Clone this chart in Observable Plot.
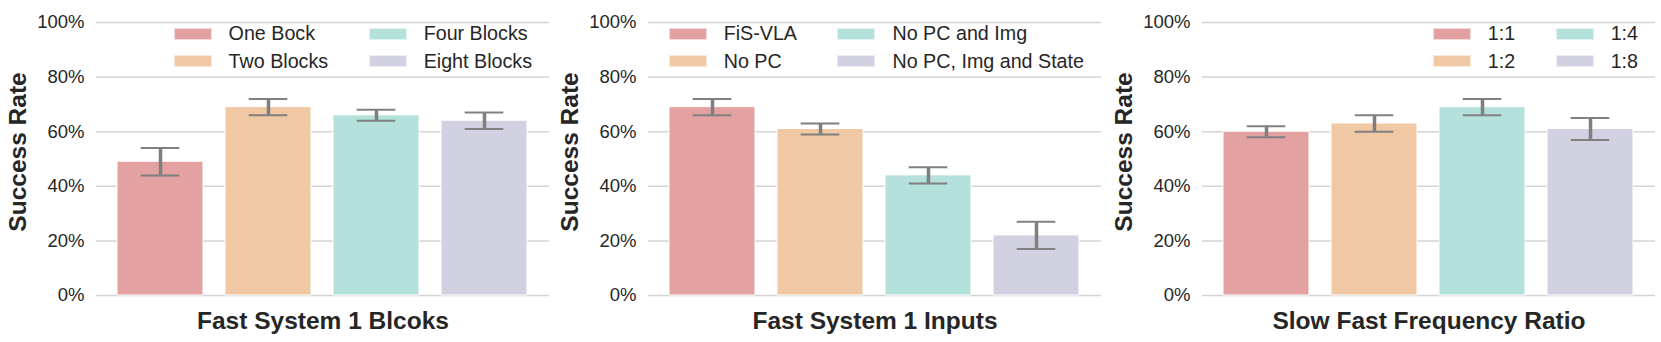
<!DOCTYPE html>
<html>
<head>
<meta charset="utf-8">
<script src="https://cdn.jsdelivr.net/npm/d3@7"></script>
<script src="https://cdn.jsdelivr.net/npm/@observablehq/plot@0.6"></script>
<style>
  html, body { margin: 0; padding: 0; background: #fff; }
  #root { position: relative; width: 1661px; height: 342px; overflow: hidden; font-family: "Liberation Sans", Arial, sans-serif; color: #262626; }
  .panel { position: absolute; top: 0; width: 554px; height: 342px; }
  .panel svg { position: absolute; left: 0; top: 0; }
  .legend { position: absolute; top: 19.8px; right: 22px; display: grid; grid-auto-flow: column; grid-template-rows: 27.8px 27.8px; column-gap: 40.5px; }
  .item { display: flex; align-items: center; }
  .patch { width: 38px; height: 12px; margin-right: 17px; box-sizing: border-box; border: 1px solid rgba(255,255,255,0.6); }
  .lbl { font-size: 19.7px; line-height: 1; white-space: nowrap; color: #262626; }
</style>
</head>
<body>
<div id="root"></div>
<script>
// ---- data ----
const blockLabels = ["One Bock", "Two Blocks", "Four Blocks", "Eight Blocks"];
const blockMean = [49, 69, 66, 64];
const blockLow = [44, 66, 64, 61];
const blockHigh = [54, 72, 68, 67];

const inputLabels = ["FiS-VLA", "No PC", "No PC and Img", "No PC, Img and State"];
const inputMean = [69, 61, 44, 22];
const inputLow = [66, 59, 41, 17];
const inputHigh = [72, 63, 47, 27];

const ratioLabels = ["1:1", "1:2", "1:4", "1:8"];
const ratioMean = [60, 63, 69, 61];
const ratioLow = [58, 60, 66, 57];
const ratioHigh = [62, 66, 72, 65];

const xTitles = ["Fast System 1 Blcoks", "Fast System 1 Inputs", "Slow Fast Frequency Ratio"];
const yTitle = "Success Rate";
const yTicks = [0, 20, 40, 60, 80, 100];
const barColors = ["#E3A1A2", "#F0C8A4", "#B4E1DB", "#D1D1E1"];

const panelLeft = [0, 552, 1106];

const panels = [
  {labels: blockLabels, mean: blockMean, low: blockLow, high: blockHigh, title: xTitles[0]},
  {labels: inputLabels, mean: inputMean, low: inputLow, high: inputHigh, title: xTitles[1]},
  {labels: ratioLabels, mean: ratioMean, low: ratioLow, high: ratioHigh, title: xTitles[2]}
];

const root = document.getElementById("root");

panels.forEach((p, i) => {
  const rows = p.labels.map((label, j) => ({label, mean: p.mean[j], low: p.low[j], high: p.high[j]}));
  const div = document.createElement("div");
  div.className = "panel";
  div.style.left = panelLeft[i] + "px";

  const chart = Plot.plot({
    width: 554,
    height: 342,
    marginLeft: 96,
    marginRight: 5,
    marginTop: 22,
    marginBottom: 47,
    style: {fontFamily: "'Liberation Sans', Arial, sans-serif", color: "#262626", background: "transparent", overflow: "visible"},
    x: {type: "band", domain: p.labels, paddingInner: 0.2, paddingOuter: 0.1, insetLeft: 9.5, insetRight: 9.5, axis: null},
    y: {domain: [0, 100], axis: null},
    color: {domain: p.labels, range: barColors},
    marks: [
      Plot.ruleY(yTicks, {stroke: "#d4d4d4", strokeWidth: 1.5}),
      Plot.barY(rows, {x: "label", y: "mean", fill: "label", stroke: "white", strokeWidth: 1}),
      Plot.ruleX(rows, {x: "label", y1: "low", y2: "high", stroke: "#7f7f7f", strokeWidth: 3.5}),
      Plot.tickY(rows, {x: "label", y: "low", stroke: "#808080", strokeWidth: 2, insetLeft: 23.7, insetRight: 23.7}),
      Plot.tickY(rows, {x: "label", y: "high", stroke: "#808080", strokeWidth: 2, insetLeft: 23.7, insetRight: 23.7}),
      Plot.axisY({ticks: yTicks, tickSize: 0, tickPadding: 12, tickFormat: d => d + "%", fontSize: 18.5, label: null}),
      Plot.text([yTitle], {text: d => d, frameAnchor: "left", textAnchor: "middle", rotate: -90, dx: -78, dy: -7, fontSize: 24.5, fontWeight: "bold"}),
      Plot.text([p.title], {text: d => d, frameAnchor: "bottom", lineAnchor: "bottom", dy: 33, fontSize: 24.5, fontWeight: "bold"})
    ]
  });
  div.appendChild(chart);

  const legend = document.createElement("div");
  legend.className = "legend";
  p.labels.forEach((label, j) => {
    const item = document.createElement("div");
    item.className = "item";
    const patch = document.createElement("span");
    patch.className = "patch";
    patch.style.background = barColors[j];
    const txt = document.createElement("span");
    txt.className = "lbl";
    txt.textContent = label;
    item.appendChild(patch);
    item.appendChild(txt);
    legend.appendChild(item);
  });
  div.appendChild(legend);
  root.appendChild(div);
});
</script>
</body>
</html>
